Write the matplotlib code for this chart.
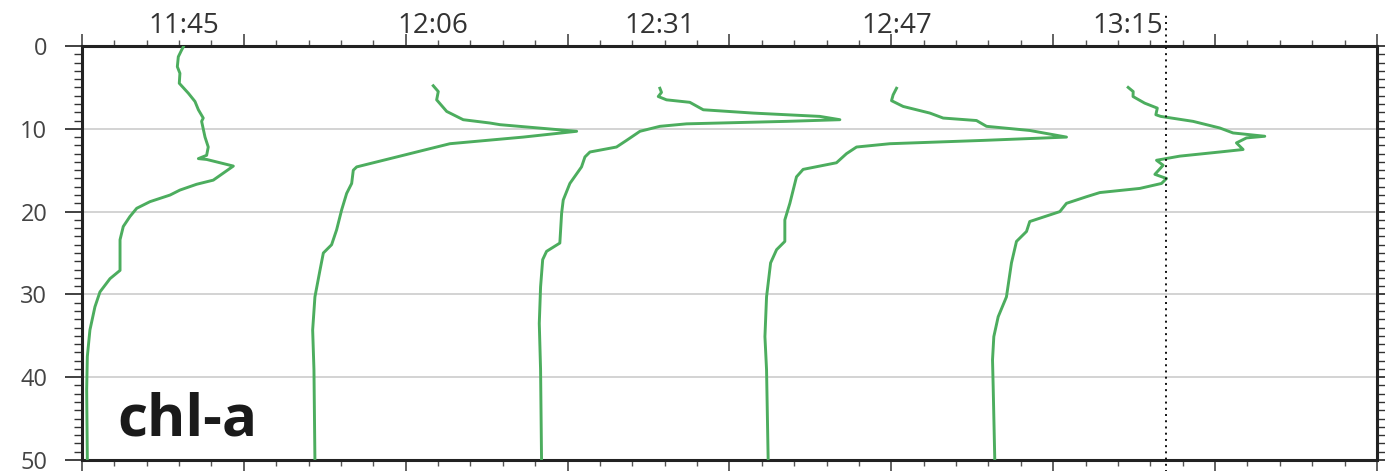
import numpy as np
import matplotlib.pyplot as plt
from matplotlib.ticker import MultipleLocator
import matplotlib.transforms as mtransforms

plt.rcParams['font.family'] = ['Open Sans', 'DejaVu Sans']

# cast times, one profile per cast
cast_times = ['11:45', '12:06', '12:31', '12:47', '13:15']

# chl-a profiles, x in plot units (each cast offset along the time axis), depth in m
p1145_x = [0.626, 0.615, 0.595, 0.589, 0.605, 0.601, 0.657, 0.698, 0.719, 0.749, 0.739,
           0.760, 0.780, 0.770, 0.719, 0.770, 0.935, 0.811, 0.708, 0.605, 0.544,
           0.420, 0.338, 0.296, 0.255, 0.235, 0.235, 0.235, 0.173, 0.111, 0.080,
           0.049, 0.033, 0.029, 0.033]
p1145_d = [0.1, 0.5, 1.3, 2.5, 3.3, 4.5, 5.7, 6.7, 7.7, 8.7, 9.1,
           11.0, 12.2, 13.2, 13.6, 13.7, 14.5, 16.2, 16.7, 17.4, 18.0,
           18.8, 19.6, 20.6, 21.8, 23.4, 25.4, 27.1, 28.1, 29.7, 31.5,
           34.3, 37.5, 41.5, 50.0]

p1206_x = [2.170, 2.201, 2.191, 2.253, 2.355, 2.520, 2.582, 3.056, 2.726, 2.273,
           2.108, 1.944, 1.697, 1.676, 1.666, 1.635, 1.604, 1.573, 1.542, 1.491,
           1.470, 1.439, 1.425, 1.433, 1.439]
p1206_d = [4.8, 5.5, 6.5, 7.9, 8.9, 9.3, 9.5, 10.3, 11.0, 11.8,
           12.6, 13.4, 14.6, 15.0, 16.6, 17.8, 19.8, 22.2, 24.0, 25.0,
           27.1, 30.3, 34.3, 39.1, 50.0]

p1231_x = [3.570, 3.580, 3.560, 3.611, 3.755, 3.838, 4.146, 4.558, 4.682, 4.353,
           3.735, 3.570, 3.447, 3.364, 3.302, 3.138, 3.107, 3.086, 3.014, 2.973,
           2.963, 2.952, 2.870, 2.846, 2.833, 2.825, 2.833, 2.839]
p1231_d = [5.1, 5.6, 6.1, 6.5, 6.8, 7.7, 8.1, 8.5, 8.9, 9.1,
           9.4, 9.7, 10.3, 11.4, 12.2, 12.8, 13.4, 14.6, 16.6, 18.6,
           20.2, 23.8, 24.8, 25.8, 29.1, 33.5, 39.1, 50.0]

p1247_x = [5.032, 5.011, 5.001, 5.073, 5.238, 5.320, 5.526, 5.588, 5.855, 6.082,
           5.567, 4.991, 4.785, 4.723, 4.661, 4.455, 4.414, 4.373, 4.342, 4.342,
           4.291, 4.254, 4.229, 4.219, 4.229, 4.239]
p1247_d = [5.1, 5.9, 6.6, 7.3, 8.1, 8.7, 9.0, 9.7, 10.2, 11.0,
           11.4, 11.8, 12.2, 13.0, 14.1, 14.9, 15.8, 19.0, 21.0, 23.6,
           24.6, 26.2, 30.3, 35.1, 39.1, 50.0]

p1315_x = [6.463, 6.494, 6.493, 6.565, 6.643, 6.634, 6.664, 6.864, 7.029, 7.111,
           7.307, 7.194, 7.132, 7.173, 7.029, 6.782, 6.638, 6.679, 6.628, 6.700,
           6.669, 6.535, 6.288, 6.206, 6.082, 6.041, 5.855, 5.835, 5.773, 5.742,
           5.711, 5.660, 5.633, 5.625, 5.629, 5.639]
p1315_d = [5.0, 5.5, 6.1, 6.9, 7.5, 8.3, 8.5, 9.1, 9.9, 10.5,
           10.9, 11.1, 11.7, 12.5, 12.8, 13.3, 13.8, 14.4, 15.5, 16.0,
           16.6, 17.2, 17.7, 18.2, 19.0, 20.0, 21.2, 22.4, 23.6, 26.2,
           30.3, 32.7, 35.1, 37.9, 41.1, 50.0]

profiles_x = [p1145_x, p1206_x, p1231_x, p1247_x, p1315_x]
profiles_d = [p1145_d, p1206_d, p1231_d, p1247_d, p1315_d]

marker_x = 6.696  # dotted reference line

fig = plt.figure(figsize=(13.85, 4.71), dpi=100)
ax = fig.add_axes([0.0592, 0.0234, 0.9350, 0.8789])

green = '#4cad5e'
for xs, ds in zip(profiles_x, profiles_d):
    ax.plot(xs, ds, color=green, lw=2.1, solid_joinstyle='round', zorder=3)

ax.set_xlim(0, 8)
ax.set_ylim(50, 0)

ax.yaxis.set_major_locator(MultipleLocator(10))
ax.yaxis.set_minor_locator(MultipleLocator(1))
ax.xaxis.set_major_locator(MultipleLocator(1))
ax.xaxis.set_minor_locator(MultipleLocator(0.2))
ax.set_xticklabels([])

ax.tick_params(axis='y', which='major', direction='out', length=12, width=1.3,
               color='#333333', labelsize=17, labelcolor='#444444', pad=13,
               left=True, right=True)
ax.tick_params(axis='y', which='minor', direction='out', length=6, width=1.0,
               color='#333333', left=True, right=True)
ax.tick_params(axis='x', which='major', direction='out', length=9, width=1.3,
               color='#555555', top=True, bottom=True, labeltop=False, labelbottom=False)
ax.tick_params(axis='x', which='minor', direction='out', length=4, width=1.0,
               color='#555555', top=True, bottom=True)

for s in ax.spines.values():
    s.set_linewidth(2.2)
    s.set_color('#222222')

for d in [10, 20, 30, 40]:
    ax.axhline(d, color='#cccccc', lw=1.2, zorder=1)

ax.axvline(marker_x, ymin=-0.03, ymax=1.08, color='#111111', lw=1.4,
           ls=(0, (1, 2.2)), clip_on=False, zorder=4)

# cast time labels above each profile's first sample
trans = mtransforms.blended_transform_factory(ax.transData, ax.transAxes)
for t, xs in zip(cast_times, profiles_x):
    ax.text(xs[0], 1.031, t, transform=trans, ha='center', va='baseline',
            fontsize=20, color='#333333')

ax.text(0.027, 0.058, 'chl-a', transform=ax.transAxes, ha='left', va='baseline',
        fontsize=42, fontweight='bold', color='#1a1a1a')

fig.savefig('out.png', dpi=100)
